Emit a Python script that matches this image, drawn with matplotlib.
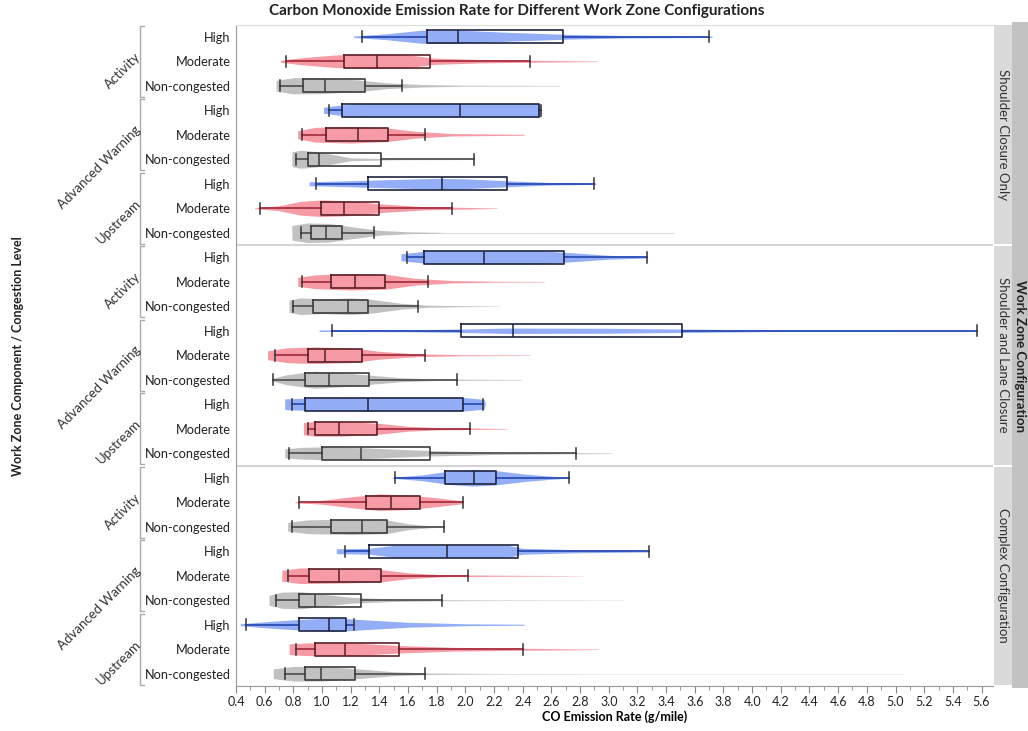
import matplotlib
matplotlib.use("Agg")
import matplotlib.pyplot as plt
import numpy as np
from matplotlib.ticker import MultipleLocator
from matplotlib.transforms import blended_transform_factory
from matplotlib.patches import Rectangle

plt.rcParams['font.family'] = ['Lato', 'DejaVu Sans']

# categories
configs = ["Shoulder Closure Only", "Shoulder and Lane Closure", "Complex Configuration"]
components = ["Activity", "Advanced Warning", "Upstream"]
levels = ["High", "Moderate", "Non-congested"]

# box plot stats, one value per row (top to bottom)
whislo = [1.28, 0.75, 0.71, 1.05, 0.86, 0.82, 0.96, 0.57, 0.85,
          1.59, 0.86, 0.80, 1.07, 0.67, 0.66, 0.79, 0.90, 0.77,
          1.51, 0.84, 0.79, 1.16, 0.76, 0.68, 0.47, 0.82, 0.74]
q1 = [1.73, 1.15, 0.87, 1.14, 1.03, 0.90, 1.32, 0.99, 0.92,
      1.71, 1.06, 0.94, 1.97, 0.90, 0.88, 0.88, 0.95, 1.00,
      1.86, 1.31, 1.06, 1.33, 0.91, 0.84, 0.84, 0.95, 0.88]
med = [1.95, 1.38, 1.02, 1.96, 1.25, 0.98, 1.84, 1.15, 1.03,
       2.13, 1.23, 1.18, 2.33, 1.02, 1.05, 1.32, 1.12, 1.27,
       2.06, 1.48, 1.28, 1.87, 1.12, 0.95, 1.05, 1.16, 0.99]
q3 = [2.68, 1.75, 1.30, 2.51, 1.46, 1.41, 2.29, 1.40, 1.14,
      2.69, 1.44, 1.32, 3.51, 1.28, 1.33, 1.98, 1.38, 1.75,
      2.21, 1.68, 1.45, 2.37, 1.41, 1.27, 1.17, 1.54, 1.23]
whishi = [3.70, 2.45, 1.56, 2.53, 1.72, 2.06, 2.90, 1.91, 1.36,
          3.27, 1.74, 1.67, 5.57, 1.72, 1.94, 2.12, 2.03, 2.77,
          2.72, 1.98, 1.85, 3.28, 2.02, 1.84, 1.22, 2.40, 1.72]

# violin outlines: emission values and half widths
violin_x = [
    [1.22, 1.45, 1.70, 1.95, 2.30, 2.70, 3.10, 3.72],
    [0.71, 0.85, 1.10, 1.35, 1.60, 1.78, 2.10, 2.45, 2.92],
    [0.68, 0.80, 1.00, 1.25, 1.45, 1.70, 2.00, 2.66],
    [1.01, 1.14, 1.30, 2.00, 2.52, 2.53],
    [0.83, 0.95, 1.20, 1.45, 1.65, 1.90, 2.41],
    [0.79, 0.85, 0.95, 1.05, 1.20, 1.50, 2.06],
    [0.91, 1.30, 1.80, 2.00, 2.30, 2.60, 2.91],
    [0.53, 0.70, 0.85, 1.00, 1.20, 1.40, 1.70, 1.95, 2.22],
    [0.79, 0.90, 1.05, 1.20, 1.40, 1.60, 1.90, 2.40, 2.45, 3.45],
    [1.55, 1.65, 1.75, 2.50, 2.70, 3.00, 3.27],
    [0.83, 0.95, 1.20, 1.45, 1.65, 1.90, 2.20, 2.55],
    [0.77, 0.85, 1.00, 1.20, 1.35, 1.55, 1.75, 2.00, 2.24],
    [0.98, 1.60, 1.97, 2.30, 3.00, 3.50, 4.20, 5.57],
    [0.62, 0.75, 0.95, 1.20, 1.40, 1.65, 2.00, 2.45],
    [0.65, 0.75, 0.95, 1.15, 1.35, 1.55, 1.80, 2.39],
    [0.74, 0.90, 1.30, 2.00, 2.13, 2.14],
    [0.87, 0.95, 1.15, 1.40, 1.60, 1.80, 2.05, 2.29],
    [0.74, 0.85, 1.00, 1.30, 1.70, 2.20, 2.80, 3.02],
    [1.49, 1.70, 1.90, 2.05, 2.20, 2.40, 2.60, 2.72],
    [0.81, 1.00, 1.20, 1.40, 1.60, 1.80, 1.98],
    [0.76, 0.90, 1.20, 1.45, 1.60, 1.75, 1.85],
    [1.10, 1.33, 1.50, 2.30, 2.40, 2.80, 3.28],
    [0.72, 0.85, 1.10, 1.40, 1.60, 1.85, 2.30, 2.82],
    [0.63, 0.72, 0.85, 1.00, 1.20, 1.50, 1.85, 2.30, 3.10],
    [0.43, 0.60, 0.85, 1.10, 1.30, 1.60, 2.00, 2.41],
    [0.77, 0.90, 1.20, 1.55, 1.90, 2.40, 2.93],
    [0.66, 0.80, 1.00, 1.25, 1.50, 1.75, 2.20, 3.10, 5.05],
]
violin_w = [
    [0.03, 0.12, 0.27, 0.27, 0.18, 0.10, 0.05, 0.03],
    [0.04, 0.14, 0.26, 0.30, 0.26, 0.13, 0.07, 0.04, 0.01],
    [0.22, 0.33, 0.32, 0.24, 0.12, 0.05, 0.02, 0.01],
    [0.12, 0.22, 0.28, 0.28, 0.28, 0.10],
    [0.16, 0.30, 0.34, 0.28, 0.14, 0.05, 0.02],
    [0.30, 0.37, 0.32, 0.22, 0.06, 0.02, 0.01],
    [0.08, 0.14, 0.22, 0.20, 0.12, 0.05, 0.03],
    [0.02, 0.10, 0.28, 0.34, 0.30, 0.18, 0.07, 0.04, 0.01],
    [0.30, 0.40, 0.38, 0.25, 0.10, 0.04, 0.01, 0.01, 0.012, 0.012],
    [0.14, 0.20, 0.27, 0.27, 0.20, 0.08, 0.03],
    [0.18, 0.28, 0.34, 0.30, 0.14, 0.05, 0.02, 0.01],
    [0.25, 0.34, 0.30, 0.34, 0.28, 0.12, 0.04, 0.02, 0.005],
    [0.03, 0.04, 0.07, 0.11, 0.10, 0.07, 0.03, 0.02],
    [0.18, 0.30, 0.34, 0.30, 0.16, 0.06, 0.02, 0.01],
    [0.05, 0.20, 0.35, 0.28, 0.18, 0.08, 0.03, 0.01],
    [0.22, 0.25, 0.27, 0.27, 0.20, 0.0],
    [0.25, 0.30, 0.30, 0.22, 0.10, 0.05, 0.03, 0.01],
    [0.18, 0.24, 0.26, 0.22, 0.12, 0.05, 0.02, 0.01],
    [0.02, 0.12, 0.28, 0.34, 0.30, 0.16, 0.06, 0.02],
    [0.02, 0.08, 0.22, 0.34, 0.30, 0.18, 0.06],
    [0.18, 0.28, 0.32, 0.28, 0.12, 0.04, 0.02],
    [0.10, 0.12, 0.24, 0.24, 0.12, 0.06, 0.03],
    [0.22, 0.32, 0.30, 0.26, 0.12, 0.04, 0.02, 0.005],
    [0.20, 0.33, 0.35, 0.25, 0.12, 0.05, 0.02, 0.01, 0.005],
    [0.04, 0.12, 0.22, 0.28, 0.20, 0.10, 0.04, 0.02],
    [0.22, 0.26, 0.26, 0.15, 0.08, 0.04, 0.01],
    [0.20, 0.30, 0.30, 0.20, 0.08, 0.03, 0.01, 0.005, 0.005],
]

x_ticks = np.arange(0.4, 5.61, 0.2)

# colours per congestion level
fill_col = {"High": "#87A5F5", "Moderate": "#F5909C", "Non-congested": "#BBBBBB"}
line_col = {"High": "#2B4DB5", "Moderate": "#A8303F", "Non-congested": "#555555"}
edge_col = {"High": "#1E2440", "Moderate": "#5A2028", "Non-congested": "#3C3C3C"}

W, H = 1028, 731
fig = plt.figure(figsize=(W / 100, H / 100), dpi=100)
ax = fig.add_axes([236 / W, 1 - 686 / H, (993 - 236) / W, (686 - 24.5) / H])

n = len(med)
pos = np.arange(n)
row_level = [levels[i % 3] for i in range(n)]

# white boxes under the violins
ax.barh(pos, np.array(q3) - np.array(q1), left=q1, height=0.52,
        color="white", zorder=2)

# violins
for i in range(n):
    xs = np.array(violin_x[i])
    ws = np.array(violin_w[i])
    ax.fill_between(xs, pos[i] - ws, pos[i] + ws, color=fill_col[row_level[i]],
                    alpha=0.9, linewidth=0, zorder=3)

# box plots on top
stats = []
for i in range(n):
    stats.append({"whislo": whislo[i], "q1": q1[i], "med": med[i],
                  "q3": q3[i], "whishi": whishi[i], "fliers": []})
bp = ax.bxp(stats, positions=pos, orientation="horizontal", widths=0.52,
            capwidths=0.45, showfliers=False, manage_ticks=False,
            boxprops=dict(linewidth=1.2), whiskerprops=dict(linewidth=1.3),
            capprops=dict(linewidth=1.1), medianprops=dict(linewidth=1.1))
for i in range(n):
    lv = row_level[i]
    bp["boxes"][i].set_color(edge_col[lv])
    bp["boxes"][i].set_zorder(5)
    bp["medians"][i].set_color(edge_col[lv])
    bp["medians"][i].set_zorder(5)
    for w in bp["whiskers"][2 * i:2 * i + 2]:
        w.set_color(line_col[lv])
        w.set_zorder(4)
    for c in bp["caps"][2 * i:2 * i + 2]:
        c.set_color("#333333")
        c.set_zorder(5)

# panel separators
for b in [8.5, 17.5]:
    ax.axhline(b, color="#D4D4D4", linewidth=1.5, zorder=1)

ax.set_xlim(0.4, 5.68)
ax.set_ylim(n - 0.5, -0.5)
ax.set_xticks(x_ticks)
ax.set_xticklabels([f"{v:.1f}" for v in x_ticks], fontsize=9, color="#222222")
ax.xaxis.set_minor_locator(MultipleLocator(0.1))
ax.tick_params(axis="x", which="major", length=5, color="#888888", pad=2)
ax.tick_params(axis="x", which="minor", length=3, color="#888888")
ax.set_yticks(pos)
ax.set_yticklabels(row_level, fontsize=9.2, color="#222222")
ax.tick_params(axis="y", length=0, pad=4)
for s in ["left", "bottom"]:
    ax.spines[s].set_color("#999999")
ax.spines["top"].set_color("#DDDDDD")
ax.spines["right"].set_visible(False)

ax.set_xlabel("CO Emission Rate (g/mile)", fontsize=9, fontweight="bold",
              labelpad=2)

# component brackets and rotated labels
tr = blended_transform_factory(fig.transFigure, ax.transData)
bx = 140 / W
tick = 4 / W
for k in range(9):
    top = k * 3 - 0.45
    bot = k * 3 + 2.45
    ax.plot([bx + tick, bx, bx, bx + tick], [top, top, bot, bot], color="#AAAAAA",
            linewidth=1, transform=tr, clip_on=False)
    ax.text(bx - 1 / W, k * 3 + 0.72, components[k % 3], transform=tr,
            rotation=45, rotation_mode="anchor", ha="right", va="center",
            fontsize=9.5, color="#333333")

# right strips
for j, name in enumerate(configs):
    y_top = 24.5 + j * 220.5 + 1
    y_bot = 24.5 + (j + 1) * 220.5 - 1
    fig.patches.append(Rectangle((994 / W, 1 - y_bot / H), 18 / W, (y_bot - y_top) / H,
                                 transform=fig.transFigure, facecolor="#DADADA",
                                 edgecolor="none"))
    fig.text(1003 / W, 1 - (y_top + y_bot) / 2 / H, name, rotation=270,
             ha="center", va="center", fontsize=9.5, color="#333333")
fig.patches.append(Rectangle((1012 / W, 1 - 688 / H), 16 / W, (688 - 22) / H,
                             transform=fig.transFigure, facecolor="#C2C2C2",
                             edgecolor="none"))
fig.text(1020 / W, 1 - 356 / H, "Work Zone Configuration", rotation=270,
         ha="center", va="center", fontsize=9.5, fontweight="bold", color="#222222")

fig.text(18 / W, 1 - 356 / H, "Work Zone Component / Congestion Level",
         rotation=90, ha="center", va="center", fontsize=9, fontweight="bold",
         color="#222222")
fig.text(517 / W, 1 - 11 / H,
         "Carbon Monoxide Emission Rate for Different Work Zone Configurations",
         ha="center", va="center", fontsize=11, fontweight="bold", color="#222222")

fig.savefig("out.png", dpi=100)
